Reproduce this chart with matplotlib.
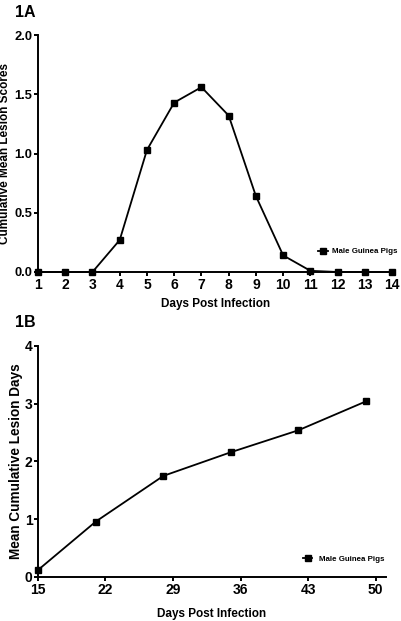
import matplotlib
matplotlib.use("Agg")
import matplotlib.pyplot as plt

plt.rcParams['font.family'] = ['Liberation Sans', 'DejaVu Sans']
plt.rcParams['font.weight'] = 'bold'

days_a = [1, 2, 3, 4, 5, 6, 7, 8, 9, 10, 11, 12, 13, 14]
scores_a = [0, 0, 0, 0.27, 1.03, 1.43, 1.56, 1.32, 0.64, 0.14, 0.01, 0, 0, 0]
yticks_a = [0.0, 0.5, 1.0, 1.5, 2.0]

days_b = [15, 21, 28, 35, 42, 49]
days_b_ticks = [15, 22, 29, 36, 43, 50]
lesion_days_b = [0.12, 0.96, 1.75, 2.16, 2.54, 3.04]
yticks_b = [0, 1, 2, 3, 4]

series_label = "Male Guinea Pigs"

fig = plt.figure(figsize=(4.02, 6.21), dpi=100)

def style(ax, ylsize=10):
    for s in ['top', 'right']:
        ax.spines[s].set_visible(False)
    for s in ['left', 'bottom']:
        ax.spines[s].set_linewidth(1.4)
    ax.tick_params(direction='out', length=3, width=1.4, labelsize=10, pad=1)
    ax.tick_params(axis='y', labelsize=ylsize)
    for lab in ax.get_xticklabels() + ax.get_yticklabels():
        lab.set_fontweight('bold')

ax1 = fig.add_axes([0.0945, 0.562, 0.881, 0.3816])
ax1.plot(days_a, scores_a, color='black', lw=1.3, marker='s', ms=4.5, label=series_label, clip_on=False)
ax1.set_xlim(1, 14)
ax1.set_ylim(0, 2.0)
ax1.set_xticks(days_a)
ax1.set_yticks(yticks_a)
ax1.set_yticklabels([f"{v:.1f}" for v in yticks_a])
style(ax1, ylsize=9.3)
ax1.set_xlabel("Days Post Infection", fontsize=8.5, fontweight='bold', labelpad=5)
ax1.set_ylabel("Cumulative Mean Lesion Scores", fontsize=8.5, fontweight='bold')
ax1.yaxis.set_label_coords(-0.076, 0.5)
ax1.legend(loc='lower right', bbox_to_anchor=(1.035, 0.04), frameon=False,
           prop={'size': 5.7, 'weight': 'bold'}, handlelength=1.2, handletextpad=0.5)
fig.text(0.037, 0.98, "1A", fontsize=11.5, fontweight='bold', ha='left', va='center')

ax2 = fig.add_axes([0.0945, 0.0709, 0.866, 0.372])
ax2.plot(days_b, lesion_days_b, color='black', lw=1.3, marker='s', ms=4.5, label=series_label, clip_on=False)
ax2.set_xlim(15, 51.1)
ax2.set_ylim(0, 4)
ax2.set_xticks(days_b_ticks)
ax2.set_yticks(yticks_b)
style(ax2)
ax2.set_xlabel("Days Post Infection", fontsize=8.5, fontweight='bold', labelpad=8)
ax2.set_ylabel("Mean Cumulative Lesion Days", fontsize=9.8, fontweight='bold')
ax2.yaxis.set_label_coords(-0.042, 0.5)
ax2.legend(loc='lower right', bbox_to_anchor=(1.015, 0.03), frameon=False,
           prop={'size': 5.7, 'weight': 'bold'}, handlelength=1.2, handletextpad=0.8)
fig.text(0.037, 0.481, "1B", fontsize=11.5, fontweight='bold', ha='left', va='center')

fig.savefig("out.png", dpi=100)
